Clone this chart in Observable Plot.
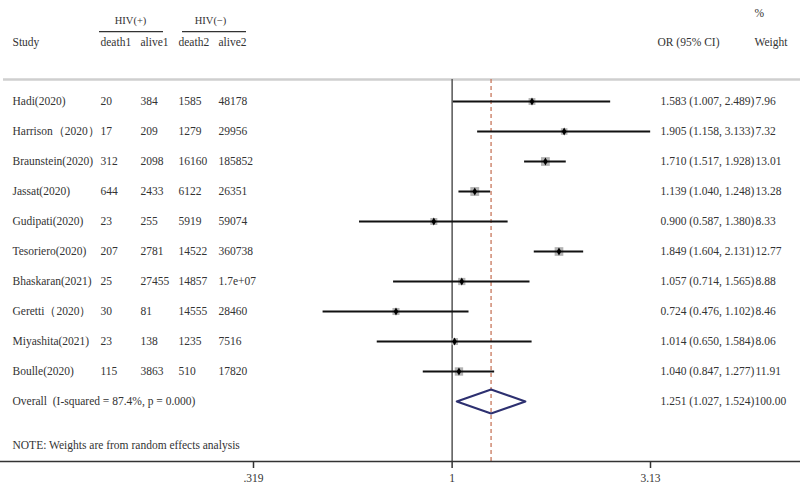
<!DOCTYPE html>
<html>
<head>
<meta charset="utf-8">
<script src="https://cdn.jsdelivr.net/npm/d3@7"></script>
<script src="https://cdn.jsdelivr.net/npm/@observablehq/plot@0.6"></script>
<style>
  html, body { margin: 0; padding: 0; background: #fff; }
</style>
</head>
<body>
<div id="chart"></div>
<script>
// ---- data ----
const studies = ["Hadi(2020)", "Harrison（2020）", "Braunstein(2020)", "Jassat(2020)", "Gudipati(2020)",
  "Tesoriero(2020)", "Bhaskaran(2021)", "Geretti（2020）", "Miyashita(2021)", "Boulle(2020)"];
const death1 = ["20", "17", "312", "644", "23", "207", "25", "30", "23", "115"];
const alive1 = ["384", "209", "2098", "2433", "255", "2781", "27455", "81", "138", "3863"];
const death2 = ["1585", "1279", "16160", "6122", "5919", "14522", "14857", "14555", "1235", "510"];
const alive2 = ["48178", "29956", "185852", "26351", "59074", "360738", "1.7e+07", "28460", "7516", "17820"];
const orEst = [1.583, 1.905, 1.710, 1.139, 0.900, 1.849, 1.057, 0.724, 1.014, 1.040];
const orLo  = [1.007, 1.158, 1.517, 1.040, 0.587, 1.604, 0.714, 0.476, 0.650, 0.847];
const orHi  = [2.489, 3.133, 1.928, 1.248, 1.380, 2.131, 1.565, 1.102, 1.584, 1.277];
const weights = [7.96, 7.32, 13.01, 13.28, 8.33, 12.77, 8.88, 8.46, 8.06, 11.91];

const overallLabel = "Overall  (I-squared = 87.4%, p = 0.000)";
const overall = {est: 1.251, lo: 1.027, hi: 1.524, weight: 100.00};
const noteText = "NOTE: Weights are from random effects analysis";

const tickValues = [0.319, 1, 3.13];
const tickLabels = [".319", "1", "3.13"];

// ---- derived tables ----
const rows = studies.map((s, i) => ({
  i, study: s, death1: death1[i], alive1: alive1[i], death2: death2[i], alive2: alive2[i],
  est: orEst[i], lo: orLo[i], hi: orHi[i], weight: weights[i],
  orText: `${orEst[i].toFixed(3)} (${orLo[i].toFixed(3)}, ${orHi[i].toFixed(3)})`,
  wText: weights[i].toFixed(2)
}));
const overallRow = studies.length; // row index of the pooled estimate
const diamond = [
  {x: overall.lo, y: overallRow},
  {x: overall.est, y: overallRow - 0.4},
  {x: overall.hi, y: overallRow},
  {x: overall.est, y: overallRow + 0.4},
  {x: overall.lo, y: overallRow}
];

// layout rows (in row units)
const topLineRow = -0.73, headerRow = -1.97, groupRow = -2.7, groupLineRow = -2.33, pctRow = -2.95;
const noteRow = 11.47, axisRow = 12;

const txt = "#333";
const font = "Liberation Serif, Times New Roman, serif";

const chart = Plot.plot({
  width: 800,
  height: 489,
  marginTop: 0, marginLeft: 0, marginRight: 0, marginBottom: 28,
  x: {type: "log", domain: [0.319, 3.13], range: [253, 650], axis: null},
  y: {domain: [0, 10], range: [101, 401], axis: null},
  r: {type: "sqrt", domain: [0, 13.28], range: [0, 5]},
  style: {fontFamily: font, fontSize: "11.5px", color: txt, background: "#fff"},
  marks: [
    // top separator
    Plot.ruleY([topLineRow], {stroke: "#cfcfcf", strokeWidth: 2.5, insetLeft: 3}),
    // header
    Plot.text(["HIV(+)"], {y: groupRow, frameAnchor: "left", dx: 130, textAnchor: "middle", text: d => d, fontSize: 10.5, fill: txt, letterSpacing: "1px"}),
    Plot.text(["HIV(−)"], {y: groupRow, frameAnchor: "left", dx: 210, textAnchor: "middle", text: d => d, fontSize: 10.5, fill: txt, letterSpacing: "1px"}),
    Plot.ruleY([groupLineRow], {insetLeft: 99, insetRight: 800 - 163, stroke: "#333", strokeWidth: 1.3}),
    Plot.ruleY([groupLineRow], {insetLeft: 182, insetRight: 800 - 246, stroke: "#333", strokeWidth: 1.3}),
    Plot.text(["Study"], {y: headerRow, frameAnchor: "left", dx: 12, textAnchor: "start", text: d => d, fill: txt}),
    Plot.text(["death1"], {y: headerRow, frameAnchor: "left", dx: 100, textAnchor: "start", text: d => d, fill: txt}),
    Plot.text(["alive1"], {y: headerRow, frameAnchor: "left", dx: 140, textAnchor: "start", text: d => d, fill: txt}),
    Plot.text(["death2"], {y: headerRow, frameAnchor: "left", dx: 178, textAnchor: "start", text: d => d, fill: txt}),
    Plot.text(["alive2"], {y: headerRow, frameAnchor: "left", dx: 218, textAnchor: "start", text: d => d, fill: txt}),
    Plot.text(["OR (95% CI)"], {y: headerRow, frameAnchor: "left", dx: 657, textAnchor: "start", text: d => d, fill: txt}),
    Plot.text(["%"], {y: pctRow, frameAnchor: "left", dx: 754, textAnchor: "start", text: d => d, fill: txt}),
    Plot.text(["Weight"], {y: headerRow, frameAnchor: "left", dx: 754, textAnchor: "start", text: d => d, fill: txt}),

    // table body
    Plot.text(rows, {y: "i", text: "study", frameAnchor: "left", dx: 12, textAnchor: "start", fill: txt}),
    Plot.text(rows, {y: "i", text: "death1", frameAnchor: "left", dx: 100, textAnchor: "start", fill: txt}),
    Plot.text(rows, {y: "i", text: "alive1", frameAnchor: "left", dx: 140, textAnchor: "start", fill: txt}),
    Plot.text(rows, {y: "i", text: "death2", frameAnchor: "left", dx: 178, textAnchor: "start", fill: txt}),
    Plot.text(rows, {y: "i", text: "alive2", frameAnchor: "left", dx: 218, textAnchor: "start", fill: txt}),
    Plot.text(rows, {y: "i", text: "orText", frameAnchor: "left", dx: 660, textAnchor: "start", fill: txt}),
    Plot.text(rows, {y: "i", text: "wText", frameAnchor: "left", dx: 755, textAnchor: "start", fill: txt}),

    // overall row text
    Plot.text([overallLabel], {y: overallRow, frameAnchor: "left", dx: 12, textAnchor: "start", text: d => d, fill: txt}),
    Plot.text([overall], {y: overallRow, frameAnchor: "left", dx: 660, textAnchor: "start", fill: txt,
      text: d => `${d.est.toFixed(3)} (${d.lo.toFixed(3)}, ${d.hi.toFixed(3)})`}),
    Plot.text([overall], {y: overallRow, frameAnchor: "left", dx: 754, textAnchor: "start", fill: txt,
      text: d => d.weight.toFixed(2)}),
    Plot.text([noteText], {y: noteRow, frameAnchor: "left", dx: 12, textAnchor: "start", text: d => d, fill: txt}),

    // reference lines
    Plot.ruleX([1], {y1: topLineRow, y2: axisRow, stroke: "#555", strokeWidth: 1.5}),
    Plot.ruleX([overall.est], {y1: topLineRow, y2: axisRow, stroke: "#c8775c", strokeWidth: 1.3, strokeDasharray: "4,3"}),

    // weight boxes
    Plot.dot(rows, {x: "est", y: "i", r: "weight", symbol: "square", fill: "#b3b3b3", stroke: "none"}),
    // CI lines
    Plot.ruleY(rows, {y: "i", x1: "lo", x2: "hi", stroke: "#111", strokeWidth: 2}),
    // point estimates
    Plot.dot(rows, {x: "est", y: "i", r: 2.4, symbol: "diamond", fill: "#000", stroke: "none"}),

    // pooled diamond
    Plot.line(diamond, {x: "x", y: "y", stroke: "#2d3070", strokeWidth: 2, curve: "linear"}),

    // axis
    Plot.ruleY([axisRow], {stroke: "#333", strokeWidth: 1.5}),
    Plot.axisX({ticks: tickValues, tickFormat: d => tickLabels[tickValues.indexOf(d)], tickSize: 7, tickPadding: 5,
      anchor: "bottom", label: null, strokeWidth: 1.5, fill: txt})
  ]
});
document.getElementById("chart").appendChild(chart);
</script>
</body>
</html>
